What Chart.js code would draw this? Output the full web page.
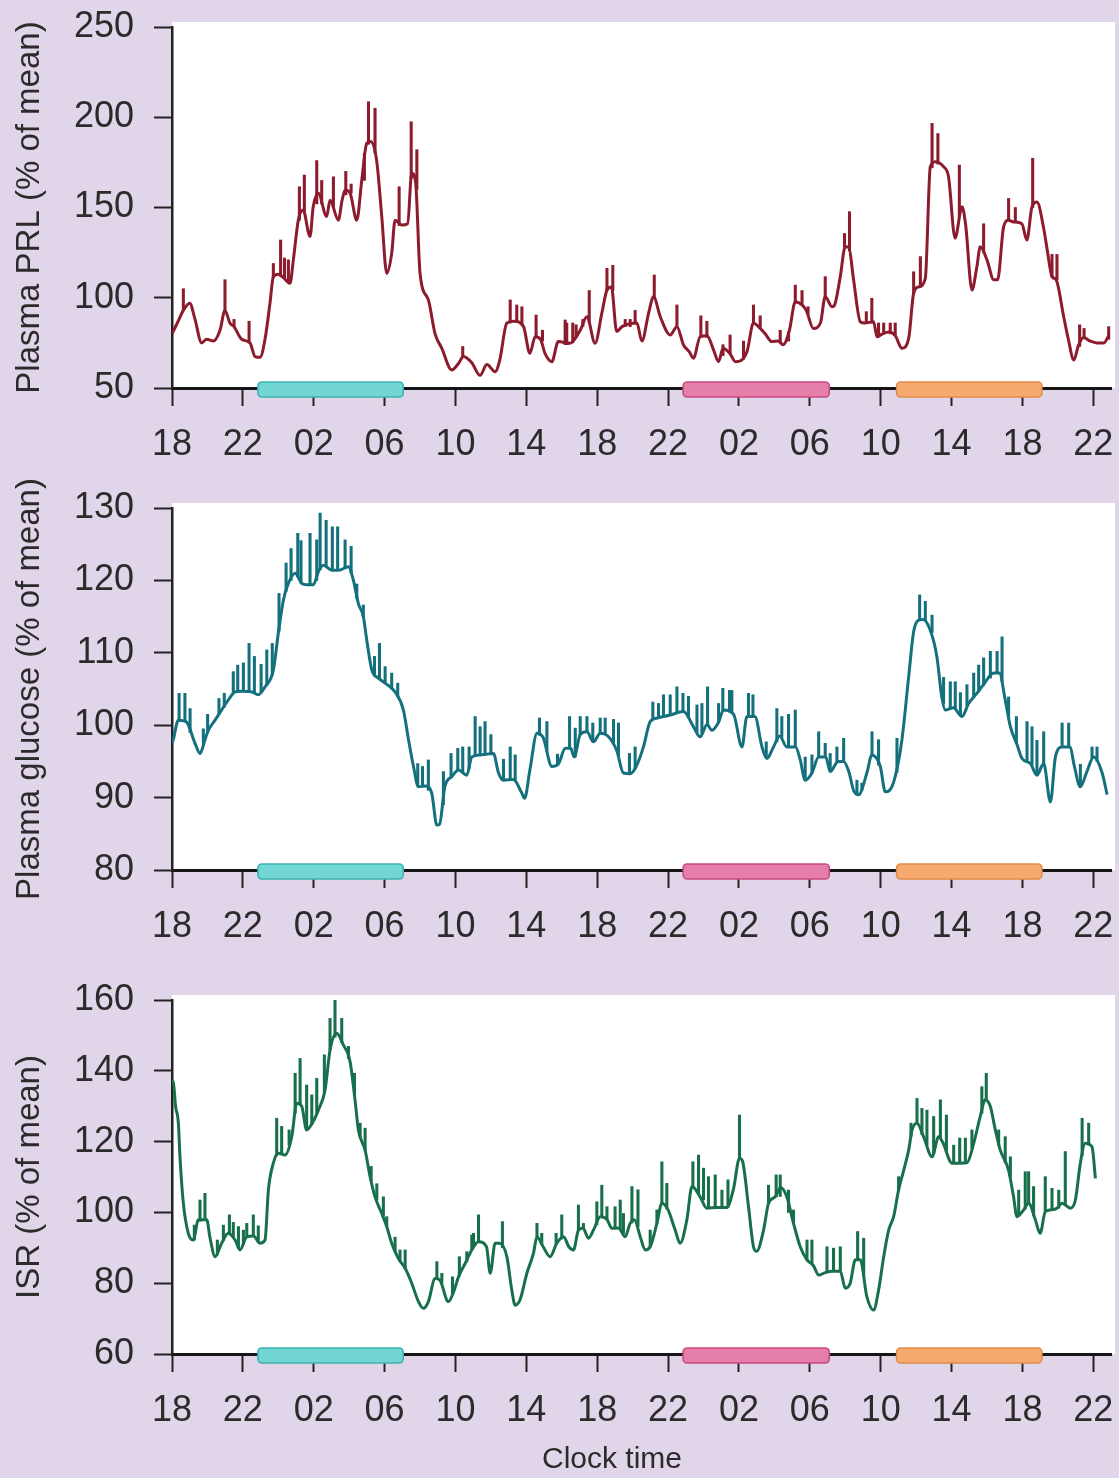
<!DOCTYPE html>
<html>
<head>
<meta charset="utf-8">
<script src="https://cdn.jsdelivr.net/npm/chart.js@4.4.1/dist/chart.umd.min.js"></script>
<style>
  html, body { margin:0; padding:0; }
  body { width:1119px; height:1478px; background:#e1d5e9; position:relative; overflow:hidden; font-family:"Liberation Sans", Arial, sans-serif; }
  canvas { position:absolute; left:0; }
  #clock { position:absolute; left:0; width:1224px; text-align:center; top:1440px; font-size:30px; line-height:36px; color:#2b2b2b; }
</style>
</head>
<body>
<canvas id="c1" width="1160" height="470" style="top:-15px"></canvas>
<canvas id="c2" width="1160" height="510" style="top:460px"></canvas>
<canvas id="c3" width="1160" height="518" style="top:958px"></canvas>
<div id="clock">Clock time</div>
<script>
// ---------------- DATA (hours after 18:00 on day 1) ----------------
const tickHours  = [0,4,8,12,16,20,24,28,32,36,40,44,48,52];
const tickLabels = ['18','22','02','06','10','14','18','22','02','06','10','14','18','22'];

// sleep / rest periods (start, end in hours after 18:00)
const sleepStart = [4.85, 28.85, 40.9];
const sleepEnd   = [13.05, 37.1, 49.1];

// Plasma PRL (% of mean)
const prlHours = [0,0.3,0.64,1.0,1.3,1.67,1.96,2.33,2.71,2.99,3.27,3.5,3.93,4.4,4.69,4.97,5.25,5.53,5.72,6.0,6.3,6.66,6.85,7.13,7.4,7.79,7.97,8.26,8.73,8.92,9.39,9.6,9.77,10.05,10.43,10.71,10.99,11.2,11.55,11.84,12.12,12.4,12.59,12.97,13.3,13.53,13.75,14.0,14.47,14.85,15.23,15.79,16.17,16.45,16.92,17.39,17.77,18.24,18.5,18.9,19.3,19.84,20.2,20.5,20.8,21.06,21.44,21.8,22.47,23.04,23.42,23.88,24.26,24.55,24.8,25.1,25.4,26.24,26.52,26.9,27.18,27.56,28.12,28.5,28.87,29.2,29.43,29.81,30.2,30.57,30.85,31.1,31.5,31.8,32.45,32.82,33.1,33.48,33.86,34.2,34.5,34.85,35.18,35.56,35.8,36.2,36.6,36.87,37.25,37.4,37.72,38.0,38.2,38.47,38.85,39.1,39.6,39.79,40.1,40.45,40.82,41.2,41.58,41.86,42.14,42.52,42.8,43.08,43.55,43.83,44.2,44.59,44.8,45.15,45.43,45.62,46.0,46.38,46.6,46.94,47.22,47.5,47.97,48.25,48.54,48.82,49.2,49.4,49.67,49.9,50.33,50.6,50.9,51.17,51.45,51.83,52.2,52.6,52.87];
const prlValues = [80,86,93,97,88,75,77,76,82,93,86,84,77,75,67.4,67,77,97,111.7,113,111,108,121,143,148.6,134,150.4,157.9,145,154,143,154,159.7,158,143,165,185.5,186.5,176,145,113.5,124.6,143,140.3,141,169,164,113.5,98.8,80,72,60,63.6,67.4,64,57,63,59,65.5,86,87,84,69.2,78.4,77,69,64.6,75.7,74.8,82,89.5,74.8,91.4,104.3,106,81.3,84,86,76,91.4,100.6,89.5,79.4,84,73.8,70,66.5,78.4,79,71,64.6,72,69,64.6,70,86,84,80,75.7,76,74,82,97.8,96,93,83,86,100.6,95,96,111.7,128.3,128,110,86.7,86,86.7,78.4,80,81,79,72,77.5,102.5,106,110.8,172.6,175.4,172.6,167,133,150.4,140,104.3,117.2,128.3,121,110,110,139.4,143,142,141,132,150.4,153,138.5,126.5,111.7,110,89.5,76.6,65.5,73.8,78,76,75,75,79];
// spikes: [hour, low, high]
const prlSpikes = [[0.64,93,105],[2.99,93,110],[3.5,84,88],[4.35,75,87],[5.72,111,119],[6.13,112,132],[6.35,111,122],[6.57,109,121],[7.19,143,161.5],[7.47,148,168],[8.17,152,176],[8.45,152,165],[9.11,150,167],[9.81,157,170],[10.11,158,163],[10.86,165,180],[11.09,185,208.6],[11.46,180,205],[12.82,140,161.5],[13.5,166,197.5],[13.82,160,182],[16.41,67,73],[19.09,86,98.8],[19.46,87,96],[19.75,85,95],[20.55,78,90.4],[20.91,76,82],[22.19,74,87.7],[22.28,74,86],[22.62,75,86],[22.81,78,85],[23.19,84,88],[23.55,86,104],[24.55,104,116.3],[24.88,104,118],[25.58,84,88],[25.86,84,88],[26.14,86,93],[27.22,100,112.6],[28.5,84,96],[29.85,78,90],[30.19,78,87],[31.1,68,74],[31.5,69,79.4],[32.26,66,76],[32.82,86,96],[33.2,83,90],[34.33,75,82],[34.8,76,81],[35.18,97,107],[35.56,96,104],[35.9,91,95],[36.87,100,111.7],[37.96,128,135.6],[38.24,126,147.7],[39.19,86,92.3],[39.5,86,99.7],[39.88,79,86],[40.17,80,86],[40.54,80,86],[40.82,79,86],[41.86,102,114.4],[42.24,106,122.8],[42.9,172,196.6],[43.23,174,191],[44.44,145,173.5],[45.81,125,141],[47.22,143,155],[47.6,142,150],[48.58,150,177.3],[49.67,111.7,124],[49.95,110,124],[51.23,73,85],[51.48,78,83],[52.87,77,84]];

// Plasma glucose (% of mean)
const glucoseHours = [0,0.07,0.36,0.8,1.3,1.58,1.86,2.05,2.43,2.8,3.18,3.56,3.95,4.5,4.87,5.25,5.72,6.0,6.29,6.57,6.95,7.32,7.6,7.98,8.26,8.54,9.02,9.4,9.96,10.24,10.52,10.8,10.99,11.28,11.65,12.03,12.59,13.06,13.35,13.63,13.91,14.3,14.66,14.95,15.1,15.4,15.8,16.17,16.64,16.92,17.39,17.75,18.14,18.43,18.7,19.27,19.75,19.9,20.2,20.6,20.95,21.44,21.8,22.2,22.5,22.7,23.04,23.42,23.79,24.17,24.6,25.1,25.48,25.86,26.2,26.61,26.99,27.4,28.12,28.87,29.43,29.81,30.2,30.47,30.85,31.13,31.7,32.17,32.45,32.9,33.3,33.58,33.95,34.3,34.7,35.2,35.46,35.74,36.12,36.5,36.9,37.15,37.6,37.9,38.2,38.47,38.75,39.22,39.5,39.98,40.26,40.5,40.82,41.2,41.58,41.86,42.14,42.4,42.8,43.17,43.45,43.65,44.1,44.59,44.96,45.43,45.8,46.38,46.7,47.03,47.32,47.7,47.98,48.45,48.82,49.2,49.58,49.86,50.24,50.7,50.9,51.27,51.64,52.02,52.5,52.78];
const glucoseValues = [97.5,98,100.7,100.5,97.5,96.1,98,99.3,100.7,102.1,103.5,104.6,104.7,104.6,104.2,105.3,107.6,112.7,117.3,119.6,121,119.6,119.4,119.4,121.2,122.1,121.4,121.4,121.9,120,116.8,115,111.8,107.6,106.5,105.8,104.6,102.1,98,94.3,91.5,91.6,90.6,86.2,86.3,91.5,92.9,93.8,93.1,95.6,95.9,96,96.1,93.4,92.4,92.5,90.6,89.9,93.8,98.9,98.3,94.3,94.6,96.8,96.8,95.6,98.7,99.1,97.7,98.9,98.5,96.5,93.4,93.3,94.3,97,100.5,101,101.4,101.9,99.8,98.4,100.1,99.3,100.4,102.1,101.5,97,101.2,101.2,97,95.4,97,98.5,97,97,95.2,92.4,93.4,95.6,95.6,93.6,95,95,93.6,91,90.4,93.4,95.9,94.3,90.8,91,92.9,98,106.7,112.9,114.5,114.6,113.1,109.5,103.9,102.1,102.4,101.2,103,104.4,105.6,107.2,107.2,103.5,99.8,97.3,95.4,94.7,93.1,94.7,89.4,95.6,97,97,94.7,91.5,93.6,95.6,93.4,90.4];
const glucoseSpikes = [[0.4,100.7,104.4],[0.73,100.5,104.4],[1.02,99,102.3],[1.77,97.5,99.5],[2.01,99,101.5],[2.65,101.5,103.7],[2.95,102.5,104.4],[3.46,104.5,107.4],[3.71,104.6,108.3],[4.03,104.7,108.6],[4.35,104.6,111.3],[4.65,104.5,109.5],[5.03,104.5,108.4],[5.35,105.5,110.4],[5.66,107,111.3],[6.04,113,118.2],[6.44,118.5,122.4],[6.72,120,124.4],[7.1,120.5,126.5],[7.28,119.6,125.5],[7.79,119.4,126.5],[8.17,120,125.6],[8.36,121.5,129.3],[8.7,122,128.3],[9.05,121.4,127.4],[9.35,121.4,127.4],[9.77,121.7,125.6],[10.11,121,124.7],[10.43,117.5,119.5],[10.8,115,116.6],[11.43,107,109.5],[11.71,106.5,111.3],[12.03,105.8,108.1],[12.4,105,107.2],[12.74,104,105.8],[13.87,91.6,94.7],[14.14,91.5,94.3],[14.47,91,95.2],[15.32,89,93.6],[15.75,92.9,96.1],[16.13,93.8,96.8],[16.41,93.5,97],[16.77,94,97],[17.11,95.7,101.2],[17.39,96,99.8],[17.67,96,100.5],[18.0,96,98.7],[18.71,92.4,95.3],[19.09,92.5,97],[19.37,92.3,95.9],[20.74,98.6,101],[21.16,96.5,100.5],[21.76,94.6,96],[22.44,96.8,101.2],[22.76,95.6,99.6],[23.04,98.7,101.2],[23.42,99.1,101.2],[23.75,97.7,100.3],[24.17,98.9,101],[24.45,98.7,101],[24.92,97.5,100.8],[25.2,95.8,100.3],[25.82,93.3,96.1],[26.14,94,97],[27.14,100.8,103.2],[27.46,101,103],[27.74,101.2,104.2],[28.12,101.4,104.2],[28.5,101.6,105.3],[28.84,101.9,104.4],[29.15,101,104],[29.63,99,102.8],[29.91,98.8,103],[30.23,100,105.3],[30.85,100.4,103],[31.09,102,105.1],[31.47,101.8,104.8],[31.6,101.7,104.8],[32.54,101.2,104.4],[32.79,101.2,104.2],[33.54,95.5,97.7],[34.14,97.7,102.3],[34.42,98.3,101.2],[34.8,97,101.5],[35.18,97,102.1],[35.74,92.4,95.6],[36.12,93.4,95.9],[36.5,95.6,99.1],[36.87,95.6,97.5],[37.15,93.6,96.1],[37.53,94.8,97],[37.91,95,98.2],[38.66,90.5,92.4],[38.94,91,92],[39.51,95.9,99.1],[39.88,94.5,98],[40.92,93.5,98.2],[42.2,114.5,118],[42.52,114.4,117.1],[42.9,112.8,115.2],[43.55,103,106.6],[43.93,102.2,106],[44.21,102.3,106],[44.5,101.4,104.5],[44.87,102.7,105.6],[45.25,103.8,107.2],[45.53,104.6,108.3],[45.81,105.5,109.3],[46.19,106.5,110.2],[46.57,107.2,110.2],[46.85,106,112.2],[47.22,101,103.9],[47.66,97.5,101.2],[48.26,95,100.5],[48.54,94.5,99.8],[48.82,93.1,97.9],[49.2,94.7,99.1],[50.24,97,100.3],[50.61,97,100.3],[51.27,91.5,94.6],[51.93,95.5,97],[52.21,95,97]];

// ISR (% of mean)
const isrHours = [0,0.07,0.2,0.36,0.45,0.64,0.92,1.2,1.49,1.96,2.15,2.43,2.8,3.18,3.56,3.84,4.22,4.6,4.97,5.25,5.44,5.72,6.0,6.38,6.76,7.04,7.32,7.6,7.88,8.26,8.64,8.92,9.3,9.67,10.05,10.33,10.52,10.9,11.18,11.46,11.84,12.12,12.4,12.78,13.16,13.53,13.91,14.19,14.47,14.85,15.1,15.6,15.9,16.17,16.55,16.92,17.3,17.75,17.96,18.24,18.5,18.9,19.18,19.37,19.65,20.03,20.4,20.6,20.95,21.34,21.72,22.1,22.4,22.66,22.94,23.2,23.5,23.79,24.17,24.55,24.83,25.2,25.58,25.86,26.1,26.43,26.71,26.99,27.37,27.65,28.0,28.4,28.68,29.06,29.35,29.81,30.19,30.75,31.31,31.7,32.03,32.2,32.54,32.82,33.0,33.39,33.67,34.05,34.35,34.7,35.08,35.46,35.84,36.2,36.5,36.87,37.3,37.72,38.0,38.28,38.57,38.85,39.22,39.6,39.88,40.17,40.45,40.73,41.01,41.3,41.58,41.77,42.05,42.42,42.9,43.27,43.5,44.03,44.5,44.87,45.25,45.62,45.9,46.19,46.47,46.75,47.22,47.5,47.69,48.07,48.35,48.73,49.0,49.29,49.58,49.95,50.24,50.71,50.99,51.27,51.55,51.93,52.12];
const isrValues = [137,136.9,130,125.2,115.7,102.6,94.1,92.2,97.9,97.9,92.7,87.5,91.3,94.1,92.2,89.4,93.1,93.3,91.3,92.2,106.3,113.9,116.7,116.2,121.4,130.8,130,123.3,124.9,128.9,134.6,145.9,150.6,147.3,142.6,131.8,123.3,117.6,110.1,104.4,99.7,96,91.3,87,84.2,80,74.8,72.9,74.8,81.3,81,74.8,77.6,81.8,85.6,89.4,91.7,90.3,82.8,91.3,91.3,87.5,78,73.8,75.4,82.8,88.4,93.1,90.3,87.5,91.3,93.1,90.3,89.4,95,95.6,92.7,95,98.8,98,95.5,95.6,93.1,96.9,97.9,93.1,89.4,90.3,96.9,102.6,100.7,95,91.3,97.9,107.3,104.4,101.2,101.4,101.4,106.8,115.3,114.5,101.6,90.3,89,95,102.6,104.4,107,104.4,96.9,90.3,86.6,85,82.3,83,83.4,83.4,78.6,80,86.6,86.6,76.2,72.4,78,87.5,95,98.8,106.3,111.9,117.6,123.3,125.2,121.4,115.7,121.4,119.8,113.9,113.9,114,119.5,127.1,131.8,129.9,123.3,117.6,111.9,104.4,98.8,100.7,102.6,97.9,94.1,100.2,100.7,101.2,102.6,101.2,103.5,113.9,119.5,118.5,109.6];
const isrSpikes = [[1.26,92.2,96.4],[1.58,97.5,103.5],[1.86,97.9,105.4],[2.56,88,92.2],[2.9,92,96.4],[3.24,94,99.3],[3.46,93,97.2],[3.75,90,96],[4.03,91,95],[4.22,93.1,96.9],[4.59,93.3,99.3],[4.87,91.5,96.2],[5.91,116,126.6],[6.19,116.5,124.3],[6.61,119,123.3],[6.95,128,139.3],[7.23,130.5,143.5],[7.6,123.3,136],[7.89,124.9,133.2],[8.17,128,137.9],[8.6,134,144.5],[8.92,145.9,154.8],[9.2,149.5,161.4],[9.58,148,154.8],[9.96,143.5,146.9],[10.3,133,139.3],[10.62,121.5,125.2],[10.9,117.6,123.8],[11.24,109,113],[11.56,103.5,108.1],[11.93,99,104.4],[12.12,96,98.8],[12.59,89,93],[12.87,86.5,89.4],[13.16,84.2,89.4],[14.95,81,86.1],[15.23,80,82.8],[15.83,77,81.8],[16.22,82,87.5],[16.64,86,88.9],[16.92,89.4,93.6],[17.02,90.5,94.1],[17.3,91.7,99.3],[18.65,90,97.4],[20.6,93.1,96.9],[20.87,91,94.1],[21.68,91,94.1],[22.0,92.5,99.3],[22.94,95,102.1],[23.22,95.5,96.9],[23.98,96.5,103],[24.26,98.8,107.7],[24.55,98,101.6],[25.01,95.5,101.6],[25.3,95.2,103.5],[25.48,94,99.7],[25.96,97,107.3],[26.3,96,106.4],[26.99,90.3,95],[27.37,96.9,100.7],[27.65,102.6,114.3],[27.93,101,108.2],[29.4,107,114.3],[29.72,105,116.2],[30.0,103.5,112.5],[30.28,101.2,110.1],[30.66,101.3,110.6],[31.04,101.4,106.3],[31.38,101.5,109.2],[32.03,115,127.5],[33.67,102.6,107.7],[34.1,104.4,110.6],[34.33,104.5,110.6],[34.8,100,106.3],[35.08,96.9,100.7],[35.84,86.6,92.2],[36.12,85.5,92.2],[36.97,83,90.3],[37.34,83.4,89.9],[37.72,83.4,90.3],[38.7,86.6,94.6],[39.04,82,92.7],[41.01,106.3,110.1],[41.71,121.5,125.2],[42.05,125.2,132.2],[42.33,122,129.4],[42.61,119,128.9],[42.99,116.5,127.1],[43.37,121,131.8],[43.71,117.5,127.5],[44.12,113.9,119],[44.46,113.9,121],[44.78,113.9,121],[45.15,118,123.3],[45.71,128,135.5],[45.96,131.5,139.3],[46.66,119,123.3],[47.03,114,121.4],[47.32,110,115.7],[47.79,99,106.3],[48.16,101,111.5],[48.35,102.6,111.5],[48.63,99,107.3],[49.29,100.2,110.1],[49.67,100.7,106.8],[50.05,101.2,106.3],[50.42,102,117.2],[51.37,116,126.6],[51.74,119,125.2]];

// ---------------- STYLE ----------------
const FONT = '"Liberation Sans", Arial, sans-serif';
const TEXT = '#2b2b2b';
const sleepFill = ['#72d6d3', '#e57fa9', '#f7aa70'];
const sleepEdge = ['#3eb2b4', '#c94a82', '#e48c48'];

const whiteArea = {
  id: 'whiteArea',
  beforeDraw(chart) {
    const {ctx, chartArea: a} = chart;
    ctx.save();
    ctx.fillStyle = '#ffffff';
    ctx.fillRect(a.left, a.top - 5, a.right - a.left + 4, a.bottom - a.top + 5);
    ctx.restore();
  }
};
const sleepBars = {
  id: 'sleepBars',
  afterDraw(chart) {
    const {ctx, chartArea: a, scales: {x}} = chart;
    ctx.save();
    sleepStart.forEach((s, i) => {
      const x0 = x.getPixelForValue(s), x1 = x.getPixelForValue(sleepEnd[i]);
      ctx.beginPath();
      ctx.roundRect(x0, a.bottom - 6, x1 - x0, 15, 4);
      ctx.fillStyle = sleepFill[i];
      ctx.fill();
      ctx.lineWidth = 1.6;
      ctx.strokeStyle = sleepEdge[i];
      ctx.stroke();
    });
    ctx.restore();
  }
};

function panel(id, cfg) {
  return new Chart(document.getElementById(id), {
    type: 'line',
    data: {
      datasets: [
        {
          type: 'line',
          data: cfg.hours.map((h, i) => ({x: h, y: cfg.values[i]})),
          borderColor: cfg.color, borderWidth: 3, pointRadius: 0,
          cubicInterpolationMode: 'monotone', fill: false, order: 1
        },
        {
          type: 'bar',
          data: cfg.spikes.map(s => ({x: s[0], y: [s[1], s[2]]})),
          backgroundColor: cfg.color, borderWidth: 0, barThickness: 2.4, order: 2
        }
      ]
    },
    options: {
      responsive: false, animation: false, devicePixelRatio: 1,
      layout: {padding: {top: cfg.padTop, right: 49, left: 0, bottom: 0}},
      plugins: {legend: {display: false}, tooltip: {enabled: false}},
      scales: {
        x: {
          type: 'linear', min: 0, max: 53, offset: false,
          afterBuildTicks: s => { s.ticks = tickHours.map(v => ({value: v})); },
          afterFit: s => { s.height = cfg.xAxisH; },
          ticks: {
            callback: (v, i) => tickLabels[i],
            font: {family: FONT, size: 36}, color: TEXT, padding: 17,
            maxRotation: 0, autoSkip: false
          },
          grid: {drawOnChartArea: false, offset: false, tickLength: 18, tickWidth: 2, color: '#222'},
          border: {color: '#151515', width: 3}
        },
        y: {
          min: cfg.yMin, max: cfg.yMax,
          afterFit: s => { s.width = 172; },
          ticks: {stepSize: cfg.yStep, font: {family: FONT, size: 36}, color: TEXT, padding: 20},
          grid: {drawOnChartArea: false, tickLength: 18, tickWidth: 2, color: '#222'},
          border: {color: '#222', width: 2.5},
          title: {display: true, text: cfg.yTitle, font: {family: FONT, size: 33}, color: TEXT, padding: {top: 10, bottom: 0}}
        }
      }
    },
    plugins: [whiteArea, sleepBars]
  });
}

panel('c1', {hours: prlHours, values: prlValues, spikes: prlSpikes, color: '#8c1b2d',
  yMin: 50, yMax: 250, yStep: 50, yTitle: 'Plasma PRL (% of mean)', padTop: 42, xAxisH: 67});
panel('c2', {hours: glucoseHours, values: glucoseValues, spikes: glucoseSpikes, color: '#15707e',
  yMin: 80, yMax: 130, yStep: 10, yTitle: 'Plasma glucose (% of mean)', padTop: 48, xAxisH: 100});
panel('c3', {hours: isrHours, values: isrValues, spikes: isrSpikes, color: '#17704b',
  yMin: 60, yMax: 160, yStep: 20, yTitle: 'ISR (% of mean)', padTop: 42, xAxisH: 122});
</script>
</body>
</html>
